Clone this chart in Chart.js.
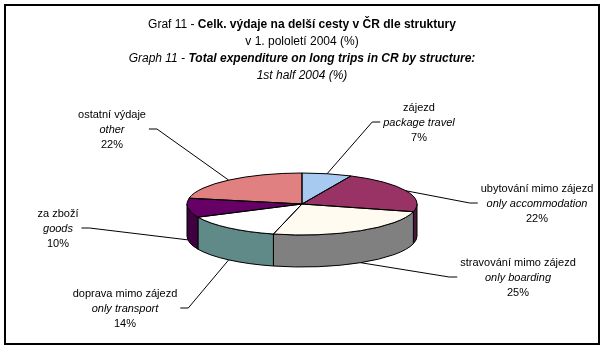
<!DOCTYPE html>
<html lang="cs">
<head>
<meta charset="UTF-8">
<title>Graf 11 - Celk. výdaje na delší cesty</title>
<script src="https://cdn.jsdelivr.net/npm/chart.js@4.4.0/dist/chart.umd.min.js"></script>
<style>
  html, body { margin: 0; padding: 0; background: #fff; }
</style>
</head>
<body>
<canvas id="graf" width="605" height="350"></canvas>
<script>
// data
const kategorieCz = ['zájezd', 'ubytování mimo zájezd', 'stravování mimo zájezd', 'doprava mimo zájezd', 'za zboží', 'ostatní výdaje'];
const kategorieEn = ['package travel', 'only accommodation', 'only boarding', 'only transport', 'goods', 'other'];
const hodnoty = [7, 22, 25, 14, 10, 22];

// barvy horni plochy a boku
const barvyHorni = ['#A6CAF0', '#993366', '#FFFBF0', '#FFFFFF', '#660066', '#E08080'];
const barvyBocni = ['#7A9CC0', '#4A1838', '#808080', '#5F8A87', '#3F003F', '#A05050'];

// umisteni popisku: stred x, uencaji prvni radky
const popiskyPozice = [
  { x: 419, y: 111 },
  { x: 537, y: 192 },
  { x: 518, y: 266 },
  { x: 125, y: 297 },
  { x: 58,  y: 217 },
  { x: 112, y: 118 }
];

const titulek = [
  [{ t: 'Graf 11 - ', f: '12px "Liberation Sans"' }, { t: 'Celk. výdaje na delší cesty v ČR dle struktury', f: 'bold 12px "Liberation Sans"' }],
  [{ t: 'v 1. pololetí 2004 (%)', f: '12px "Liberation Sans"' }],
  [{ t: 'Graph 11 - ', f: 'italic 12px "Liberation Sans"' }, { t: 'Total expenditure on long trips in CR by structure:', f: 'italic bold 12px "Liberation Sans"' }],
  [{ t: '1st half 2004 (%)', f: 'italic 12px "Liberation Sans"' }]
];

const HLOUBKA = 32;          // vyska boku kolace
const SPLOSTENI = 31 / 115;  // pomer os elipsy
const RADEK = 15;

function geometrie(chart) {
  const arc = chart.getDatasetMeta(0).data[0];
  const r = arc.outerRadius;
  return { cx: arc.x, cy: arc.y, rx: r, ry: r * SPLOSTENI };
}

const kolac3d = {
  id: 'kolac3d',
  beforeDraw(chart) {
    const ctx = chart.ctx;
    ctx.save();
    ctx.fillStyle = '#fff';
    ctx.fillRect(0, 0, chart.width, chart.height);
    ctx.strokeStyle = '#000';
    ctx.lineWidth = 2;
    ctx.strokeRect(5, 5, 594, 339);
    ctx.restore();
  },
  beforeDatasetsDraw(chart) {
    const ctx = chart.ctx;
    const g = geometrie(chart);
    const oblouky = chart.getDatasetMeta(0).data;
    ctx.save();
    ctx.lineWidth = 1;
    ctx.strokeStyle = '#000';
    oblouky.forEach((el, i) => {
      const a1 = Math.max(el.startAngle, 0);
      const a2 = Math.min(el.endAngle, Math.PI);
      if (a1 >= a2) return;
      ctx.beginPath();
      ctx.ellipse(g.cx, g.cy, g.rx, g.ry, 0, a1, a2, false);
      ctx.lineTo(g.cx + g.rx * Math.cos(a2), g.cy + g.ry * Math.sin(a2) + HLOUBKA);
      ctx.ellipse(g.cx, g.cy + HLOUBKA, g.rx, g.ry, 0, a2, a1, true);
      ctx.closePath();
      ctx.fillStyle = barvyBocni[i];
      ctx.fill();
      ctx.stroke();
    });
    ctx.restore();
    // zplosteni horni plochy
    ctx.save();
    ctx.translate(g.cx, g.cy);
    ctx.scale(1, SPLOSTENI);
    ctx.translate(-g.cx, -g.cy);
  },
  afterDatasetsDraw(chart) {
    const ctx = chart.ctx;
    ctx.restore();
    const g = geometrie(chart);
    const oblouky = chart.getDatasetMeta(0).data;

    ctx.save();
    ctx.lineWidth = 1;
    ctx.strokeStyle = '#000';
    oblouky.forEach((el) => {
      ctx.beginPath();
      ctx.moveTo(g.cx, g.cy);
      ctx.lineTo(g.cx + g.rx * Math.cos(el.startAngle), g.cy + g.ry * Math.sin(el.startAngle));
      ctx.ellipse(g.cx, g.cy, g.rx, g.ry, 0, el.startAngle, el.endAngle, false);
      ctx.closePath();
      ctx.stroke();
    });

    // popisky a vodici cary
    ctx.fillStyle = '#000';
    ctx.textAlign = 'center';
    ctx.textBaseline = 'alphabetic';
    oblouky.forEach((el, i) => {
      const p = popiskyPozice[i];
      const radky = [
        { t: kategorieCz[i], f: '11px "Liberation Sans"' },
        { t: kategorieEn[i], f: 'italic 11px "Liberation Sans"' },
        { t: hodnoty[i] + '%', f: '11px "Liberation Sans"' }
      ];
      let sirka = 0;
      radky.forEach((r, k) => {
        ctx.font = r.f;
        sirka = Math.max(sirka, ctx.measureText(r.t).width);
        ctx.fillText(r.t, p.x, p.y + k * RADEK);
      });

      const a = (el.startAngle + el.endAngle) / 2;
      let kx = g.cx + g.rx * Math.cos(a);
      let ky = g.cy + g.ry * Math.sin(a);
      if (Math.sin(a) > 0) ky += HLOUBKA;

      const vpravo = p.x > kx;
      const sx = vpravo ? p.x - sirka / 2 - 3 : p.x + sirka / 2 + 3;
      const sy = p.y + RADEK - 4;
      const lx = vpravo ? sx - 8 : sx + 8;
      ctx.beginPath();
      ctx.moveTo(sx, sy);
      ctx.lineTo(lx, sy);
      ctx.lineTo(kx, ky);
      ctx.stroke();
    });

    // titulek
    ctx.textAlign = 'left';
    titulek.forEach((radek, k) => {
      let celkem = 0;
      radek.forEach(s => { ctx.font = s.f; celkem += ctx.measureText(s.t).width; });
      let x = 302 - celkem / 2;
      radek.forEach(s => {
        ctx.font = s.f;
        ctx.fillText(s.t, x, 28 + k * 17);
        x += ctx.measureText(s.t).width;
      });
    });
    ctx.restore();
  }
};

new Chart(document.getElementById('graf'), {
  type: 'pie',
  data: {
    labels: kategorieCz,
    datasets: [{
      data: hodnoty,
      backgroundColor: barvyHorni,
      borderWidth: 0,
      hoverOffset: 0,
      clip: false
    }]
  },
  options: {
    responsive: false,
    animation: false,
    events: [],
    layout: { padding: { left: 187, right: 188, top: 89, bottom: 31 } },
    plugins: {
      legend: { display: false },
      tooltip: { enabled: false },
      title: { display: false }
    }
  },
  plugins: [kolac3d]
});
</script>
</body>
</html>
